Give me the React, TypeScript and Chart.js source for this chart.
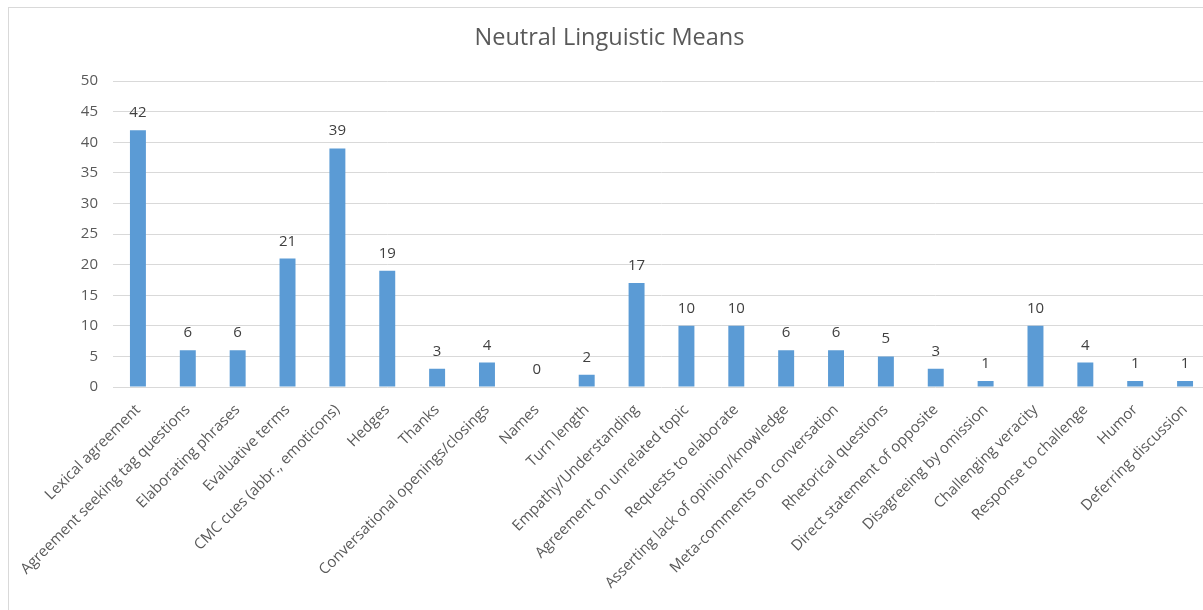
import { useEffect, useRef } from "react";
import { Chart, registerables } from "chart.js";

Chart.register(...registerables);

const categories = [
  "Lexical agreement",
  "Agreement seeking tag questions",
  "Elaborating phrases",
  "Evaluative terms",
  "CMC cues (abbr., emoticons)",
  "Hedges",
  "Thanks",
  "Conversational openings/closings",
  "Names",
  "Turn length",
  "Empathy/Understanding",
  "Agreement on unrelated topic",
  "Requests to elaborate",
  "Asserting lack of opinion/knowledge",
  "Meta-comments on conversation",
  "Rhetorical questions",
  "Direct statement of opposite",
  "Disagreeing by omission",
  "Challenging veracity",
  "Response to challenge",
  "Humor",
  "Deferring discussion",
];

const means = [42, 6, 6, 21, 39, 19, 3, 4, 0, 2, 17, 10, 10, 6, 6, 5, 3, 1, 10, 4, 1, 1];

const yMin = 0;
const yMax = 50;
const yStep = 5;

const TEXT = "#595959";
const GRID = "#d9d9d9";
const BAR = "#5b9bd5";
const FONT = "'Open Sans', sans-serif";

// Writes each bar's value above it.
const valueLabels = {
  id: "valueLabels",
  afterDatasetsDraw(chart: any) {
    const { ctx } = chart;
    const meta = chart.getDatasetMeta(0);
    const data = chart.data.datasets[0].data as number[];
    ctx.save();
    ctx.fillStyle = "#404040";
    ctx.font = `15px ${FONT}`;
    ctx.textAlign = "center";
    ctx.textBaseline = "alphabetic";
    meta.data.forEach((bar: any, i: number) => {
      ctx.fillText(String(data[i]), bar.x, bar.y - 13);
    });
    ctx.restore();
  },
};

export default function App() {
  const canvasRef = useRef<HTMLCanvasElement | null>(null);

  useEffect(() => {
    if (!canvasRef.current) return;
    const chart = new Chart(canvasRef.current, {
      type: "bar",
      data: {
        labels: categories,
        datasets: [
          {
            label: "Neutral Linguistic Means",
            data: means,
            backgroundColor: BAR,
            borderWidth: 0,
            categoryPercentage: 1,
            barPercentage: 0.32,
          },
        ],
      },
      options: {
        responsive: false,
        animation: false,
        layout: { padding: { left: 0, right: 2, top: 0, bottom: 0 } },
        plugins: {
          legend: { display: false },
          tooltip: { enabled: false },
          title: {
            display: true,
            text: "Neutral Linguistic Means",
            color: TEXT,
            font: { family: FONT, size: 23.5, weight: "normal" },
            padding: { top: 16, bottom: 29 },
          },
        },
        scales: {
          x: {
            grid: { display: false },
            border: { display: false },
            ticks: {
              color: TEXT,
              font: { family: FONT, size: 15 },
              minRotation: 45,
              maxRotation: 45,
              autoSkip: false,
              padding: 6,
            },
            afterFit: (s: any) => {
              s.height = 223;
            },
          },
          y: {
            min: yMin,
            max: yMax,
            grid: { color: GRID, drawTicks: false },
            border: { display: false },
            ticks: {
              stepSize: yStep,
              color: TEXT,
              font: { family: FONT, size: 15 },
              padding: 15,
            },
            afterFit: (s: any) => {
              s.width = 104;
            },
          },
        },
      },
      plugins: [valueLabels],
    });
    return () => chart.destroy();
  }, []);

  return (
    <div
      style={{
        position: "fixed",
        left: 0,
        top: 0,
        width: "100vw",
        height: "100vh",
        overflow: "hidden",
        background: "#fff",
      }}
    >
      <div
        style={{
          position: "absolute",
          left: 8,
          top: 7,
          borderLeft: `1px solid ${GRID}`,
          borderTop: `1px solid ${GRID}`,
          width: 1203,
          height: 602,
        }}
      >
        <canvas ref={canvasRef} width={1203} height={602} style={{ display: "block" }} />
      </div>
    </div>
  );
}
